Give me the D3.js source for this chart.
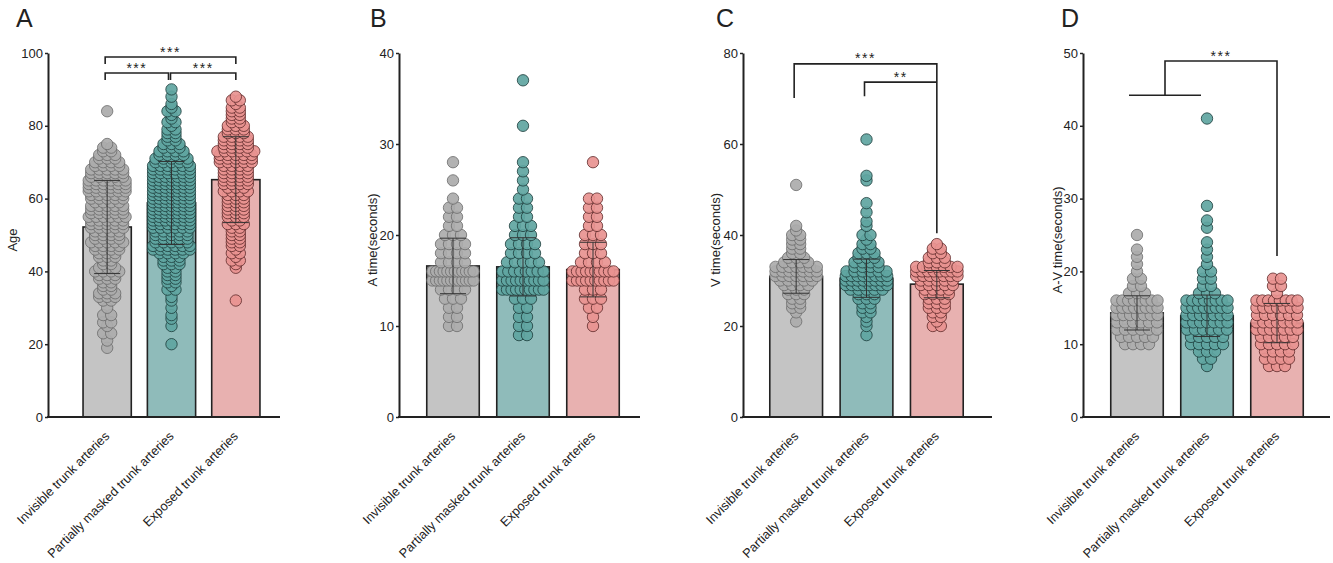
<!DOCTYPE html>
<html>
<head>
<meta charset="utf-8">
<script src="https://cdn.jsdelivr.net/npm/d3@7"></script>
<style>
  body { margin: 0; background: #fff; }
  text { font-family: "Liberation Sans", Arial, sans-serif; fill: #222; }
</style>
</head>
<body>
<svg id="chart" width="1333" height="563"></svg>
<script>
// groups shared by all four panels
var groups = ['Invisible trunk arteries', 'Partially masked trunk arteries', 'Exposed trunk arteries'];

var ageMean = [52.2, 58.8, 65.2];
var ageSD = [12.8, 11.4, 11.8];
var ageTicks = [0, 20, 40, 60, 80, 100];
var ageInvisible = [[19,1],[21,1],[23,2],[25,1],[26,2],[28,2],[30,1],[32,2],[33,3],[34,3],[35,2],[36,2],[37,2],[38,3],[39,3],[40,4],[41,3],[42,2],[43,2],[44,3],[45,3],[46,4],[47,4],[48,5],[49,4],[50,4],[51,4],[52,5],[53,5],[54,5],[55,6],[56,5],[57,5],[58,5],[59,4],[60,5],[61,5],[62,6],[63,6],[64,6],[65,6],[66,5],[67,5],[68,5],[69,4],[70,4],[71,3],[72,3],[73,2],[74,2],[75,1],[84,1]];
var agePartial = [[20,1],[25,1],[27,1],[28,1],[30,1],[32,1],[33,1],[35,2],[36,1],[37,2],[38,2],[39,2],[40,2],[41,2],[42,3],[43,3],[44,3],[45,4],[46,6],[47,6],[48,5],[49,5],[50,5],[51,5],[52,6],[53,6],[54,7],[55,7],[56,7],[57,7],[58,7],[59,7],[60,7],[61,7],[62,7],[63,7],[64,7],[65,7],[66,7],[67,6],[68,6],[69,6],[70,5],[71,5],[72,4],[73,4],[74,3],[75,3],[76,2],[77,2],[78,2],[79,2],[80,1],[81,2],[82,1],[83,1],[84,2],[85,1],[86,1],[88,1],[90,1]];
var ageExposed = [[32,1],[41,1],[42,1],[43,2],[44,1],[45,2],[46,1],[47,2],[48,2],[49,2],[50,2],[51,2],[52,2],[53,3],[54,2],[55,3],[56,3],[57,3],[58,3],[59,3],[60,3],[61,3],[62,4],[63,3],[64,4],[65,4],[66,4],[67,4],[68,4],[69,4],[70,5],[71,5],[72,5],[73,6],[74,4],[75,4],[76,4],[77,4],[78,3],[79,3],[80,3],[81,2],[82,2],[83,2],[84,2],[85,2],[86,1],[87,2],[88,1]];

// Panel B - A time
var aTimeMean = [16.6, 16.5, 16.2];
var aTimeSD = [3.05, 3.2, 3.0];
var aTimeTicks = [0, 10, 20, 30, 40];
var aTimeInvisible = [[10,2],[11,2],[12,2],[13,3],[14,4],[15,12],[16,12],[17,4],[18,4],[19,4],[20,3],[21,2],[22,2],[23,2],[24,1],[26,1],[28,1]];
var aTimePartial = [[9,2],[10,2],[11,2],[12,2],[13,3],[14,10],[15,10],[16,8],[17,5],[18,4],[19,4],[20,3],[21,3],[22,2],[23,2],[24,2],[25,1],[26,1],[27,1],[28,1],[32,1],[37,1]];
var aTimeExposed = [[10,1],[11,1],[12,2],[13,3],[14,3],[15,10],[16,10],[17,4],[18,3],[19,3],[20,3],[21,2],[22,2],[23,2],[24,2],[28,1]];

// Panel C - V time
var vTimeMean = [30.9, 30.5, 29.2];
var vTimeSD = [3.7, 4.2, 3.0];
var vTimeTicks = [0, 20, 40, 60, 80];
var vTimeInvisible = [[21,1],[23,1],[24,2],[25,2],[26,2],[27,3],[28,3],[29,4],[30,5],[31,7],[32,7],[33,7],[34,4],[35,3],[36,2],[37,2],[38,2],[39,2],[40,2],[41,1],[42,1],[51,1]];
var vTimePartial = [[18,1],[20,1],[21,1],[22,1],[23,2],[24,2],[25,2],[26,3],[27,3],[28,5],[29,8],[30,8],[31,8],[32,6],[33,4],[34,4],[35,3],[36,3],[37,2],[38,2],[39,1],[40,2],[42,1],[43,1],[45,1],[47,1],[52,1],[53,1],[61,1]];
var vTimeExposed = [[20,2],[21,1],[22,2],[23,2],[24,3],[25,3],[26,3],[27,4],[28,4],[29,5],[30,5],[31,7],[32,8],[33,7],[34,3],[35,3],[36,2],[37,2],[38,1]];

// Panel D - A-V time
var avTimeMean = [14.3, 13.9, 12.9];
var avTimeSD = [2.35, 2.85, 2.7];
var avTimeTicks = [0, 10, 20, 30, 40, 50];
var avTimeInvisible = [[10,4],[11,5],[12,6],[13,6],[14,7],[15,8],[16,8],[17,3],[18,2],[19,2],[20,1],[21,1],[22,1],[23,1],[25,1]];
var avTimePartial = [[7,1],[8,2],[9,3],[10,5],[11,5],[12,6],[13,7],[14,7],[15,8],[16,8],[17,3],[18,2],[19,2],[20,2],[21,1],[22,1],[23,1],[24,1],[26,1],[27,1],[29,1],[41,1]];
var avTimeExposed = [[7,3],[8,4],[9,4],[10,5],[11,5],[12,7],[13,7],[14,6],[15,7],[16,8],[17,1],[18,2],[19,2]];

// colours
var barFill = ['#c4c4c4', '#8fbbba', '#e8b1b0'];
var dotFill = ['#ababab', '#5fa5a1', '#e89290'];
var dotStroke = ['#6b6b6b', '#1c3b3a', '#5e2a2a'];

var yTop = 53, yBottom = 417;
var dotR = 5.7;

var panels = [
  { letter: 'A', title: 'Age', max: 100, ticks: ageTicks, mean: ageMean, sd: ageSD,
    dists: [ageInvisible, agePartial, ageExposed],
    axisX: 48, axisEnd: 280, band: [75, 268], letterX: 16, titleX: 12,
    brackets: [
      { a: 0, b: 2, y: 98.9, ya: 97.0, yb: 97.0, label: '***' },
      { a: 0, b: 1, y: 94.5, ya: 92.6, yb: 92.6, label: '***', shiftB: -3 },
      { a: 1, b: 2, y: 94.5, ya: 92.6, yb: 92.6, label: '***', shiftA: 1 }
    ] },
  { letter: 'B', title: 'A time(seconds)', max: 40, ticks: aTimeTicks, mean: aTimeMean, sd: aTimeSD,
    dists: [aTimeInvisible, aTimePartial, aTimeExposed],
    axisX: 399, axisEnd: 640, band: [418, 628], letterX: 370, titleX: 372, brackets: [] },
  { letter: 'C', title: 'V time(seconds)', max: 80, ticks: vTimeTicks, mean: vTimeMean, sd: vTimeSD,
    dists: [vTimeInvisible, vTimePartial, vTimeExposed],
    axisX: 743, axisEnd: 992, band: [761, 972], letterX: 716, titleX: 715,
    brackets: [
      { a: 0, b: 2, y: 77.6, ya: 70.1, yb: 40.4, label: '***' },
      { a: 1, b: 2, y: 73.6, ya: 70.5, yb: 73.6, label: '**' }
    ] },
  { letter: 'D', title: 'A-V time(seconds)', max: 50, ticks: avTimeTicks, mean: avTimeMean, sd: avTimeSD,
    dists: [avTimeInvisible, avTimePartial, avTimeExposed],
    axisX: 1083, axisEnd: 1330, band: [1102, 1312], letterX: 1061, titleX: 1057,
    brackets: [],
    joined: { y: 48.9, base: 44.2, yb: 22.1, label: '***' } }
];

var svg = d3.select('#chart');

panels.forEach(function(p) {
  var g = svg.append('g');

  var y = d3.scaleLinear().domain([0, p.max]).range([yBottom, yTop]);
  var x = d3.scaleBand().domain(groups).range(p.band).paddingInner(0.25).paddingOuter(0.125);
  var bw = x.bandwidth();
  var xc = function(i) { return x(groups[i]) + bw / 2; };

  // panel letter
  g.append('text').attr('x', p.letterX).attr('y', 27)
    .style('font-size', '25px').text(p.letter);

  // y axis
  var yAxis = d3.axisLeft(y).tickValues(p.ticks).tickSize(3).tickSizeOuter(0).tickPadding(2);
  var ya = g.append('g').attr('transform', 'translate(' + p.axisX + ',0)').call(yAxis);
  ya.select('.domain').attr('stroke', '#222').attr('stroke-width', 2);
  ya.selectAll('.tick line').attr('stroke', '#222').attr('stroke-width', 1.5);
  ya.selectAll('.tick text').style('font-size', '13px').style('font-family', '"Liberation Sans", Arial, sans-serif').attr('fill', '#222');

  g.append('text')
    .attr('transform', 'translate(' + p.titleX + ',' + 240 + ') rotate(-90)')
    .attr('text-anchor', 'middle').attr('dy', '0.35em')
    .style('font-size', '13px').text(p.title);

  // bars
  g.selectAll('rect.bar').data(p.mean).enter().append('rect')
    .attr('class', 'bar')
    .attr('x', function(d, i) { return x(groups[i]); })
    .attr('width', bw)
    .attr('y', function(d) { return y(d); })
    .attr('height', function(d) { return yBottom - y(d); })
    .attr('fill', function(d, i) { return barFill[i]; })
    .attr('stroke', '#222').attr('stroke-width', 1.6);

  // dots, laid out row by row around the group centre
  p.dists.forEach(function(dist, gi) {
    var pts = [];
    var maxSpread = bw - 2 * dotR;
    dist.forEach(function(row) {
      var v = row[0], n = row[1];
      var step = n > 1 ? Math.min(8, maxSpread / (n - 1)) : 0;
      for (var k = 0; k < n; k++) {
        pts.push({ v: v, dx: (k - (n - 1) / 2) * step });
      }
    });
    g.append('g').selectAll('circle').data(pts).enter().append('circle')
      .attr('cx', function(d) { return xc(gi) + d.dx; })
      .attr('cy', function(d) { return y(d.v); })
      .attr('r', dotR)
      .attr('fill', dotFill[gi])
      .attr('fill-opacity', 0.92)
      .attr('stroke', dotStroke[gi])
      .attr('stroke-width', 0.8);
  });

  // error bars (mean +/- SD)
  var cap = 13;
  p.mean.forEach(function(m, i) {
    var lo = y(m - p.sd[i]), hi = y(m + p.sd[i]), cx = xc(i);
    var eg = g.append('g').attr('stroke', '#333').attr('stroke-width', 1);
    eg.append('line').attr('x1', cx).attr('x2', cx).attr('y1', lo).attr('y2', hi);
    eg.append('line').attr('x1', cx - cap).attr('x2', cx + cap).attr('y1', lo).attr('y2', lo);
    eg.append('line').attr('x1', cx - cap).attr('x2', cx + cap).attr('y1', hi).attr('y2', hi);
  });

  // x axis
  g.append('line').attr('x1', p.axisX - 1).attr('x2', p.axisEnd)
    .attr('y1', yBottom).attr('y2', yBottom)
    .attr('stroke', '#222').attr('stroke-width', 2);

  g.selectAll('text.xl').data(groups).enter().append('text')
    .attr('class', 'xl')
    .attr('text-anchor', 'end')
    .attr('transform', function(d, i) { return 'translate(' + (xc(i) + 3) + ',' + 437 + ') rotate(-45)'; })
    .style('font-size', '12.8px')
    .text(function(d) { return d; });

  // significance brackets
  p.brackets.forEach(function(b) {
    var x1 = xc(b.a) + (b.shiftA || 0) - 2, x2 = xc(b.b) + (b.shiftB || 0);
    var yy = y(b.y);
    g.append('path')
      .attr('d', 'M' + x1 + ',' + y(b.ya) + 'V' + yy + 'H' + x2 + 'V' + y(b.yb))
      .attr('fill', 'none').attr('stroke', '#222').attr('stroke-width', 1.6);
    g.append('text').attr('x', (x1 + x2) / 2).attr('y', yy - 0.5)
      .attr('text-anchor', 'middle').style('font-size', '14px').style('letter-spacing', '1.5px')
      .text(b.label);
  });

  if (p.joined) {
    var j = p.joined;
    var mid = (xc(0) + xc(1)) / 2 - 7;
    var half = (xc(1) - xc(0)) / 2 + 1;
    var xr = xc(2);
    g.append('line').attr('x1', mid - half).attr('x2', mid + half)
      .attr('y1', y(j.base)).attr('y2', y(j.base))
      .attr('stroke', '#222').attr('stroke-width', 1.6);
    g.append('path')
      .attr('d', 'M' + mid + ',' + y(j.base) + 'V' + y(j.y) + 'H' + xr + 'V' + y(j.yb))
      .attr('fill', 'none').attr('stroke', '#222').attr('stroke-width', 1.6);
    g.append('text').attr('x', (mid + xr) / 2).attr('y', y(j.y) - 0.5)
      .attr('text-anchor', 'middle').style('font-size', '14px').style('letter-spacing', '1.5px')
      .text(j.label);
  }
});
</script>
</body>
</html>
